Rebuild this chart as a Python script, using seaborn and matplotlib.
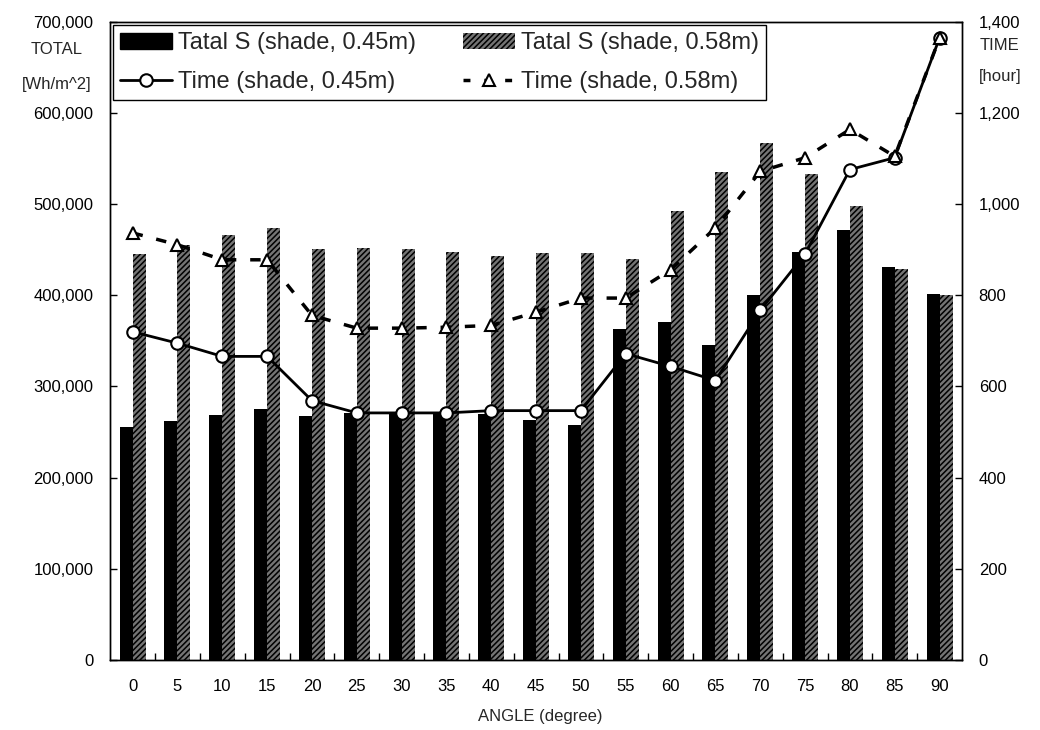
import numpy as np
import pandas as pd
import matplotlib
matplotlib.use("Agg")
import matplotlib.pyplot as plt
import seaborn as sns
from matplotlib.patches import Patch
from matplotlib.lines import Line2D
from matplotlib.ticker import FuncFormatter, MultipleLocator

# Solar radiation totals and exposure time by panel angle
angles = [0, 5, 10, 15, 20, 25, 30, 35, 40, 45, 50, 55, 60, 65, 70, 75, 80, 85, 90]
total_045 = [255000, 262000, 269000, 275000, 268000, 271000, 272000, 272000, 270000, 263000,
             258000, 363000, 371000, 345000, 400000, 447000, 472000, 431000, 402000]
total_058 = [445000, 455000, 466000, 474000, 451000, 452000, 451000, 447000, 443000, 446000,
             446000, 440000, 492000, 535000, 567000, 533000, 498000, 429000, 400000]
time_045 = [720, 695, 666, 666, 569, 542, 542, 542, 547, 547,
            547, 672, 644, 613, 767, 891, 1076, 1102, 1365]
time_058 = [937, 911, 878, 878, 756, 728, 728, 730, 734, 763,
            794, 794, 856, 948, 1072, 1102, 1164, 1105, 1365]

lab_s45 = "Tatal S (shade, 0.45m)"
lab_s58 = "Tatal S (shade, 0.58m)"
lab_t45 = "Time (shade, 0.45m)"
lab_t58 = "Time (shade, 0.58m)"

sns.set_theme(style="white")
plt.rcParams['font.family'] = ['Liberation Sans', 'DejaVu Sans']
plt.rcParams['hatch.linewidth'] = 1.1

fig = plt.figure(figsize=(10.4, 7.3), dpi=100)
ax = fig.add_axes([0.106, 0.096, 0.819, 0.874])

df = pd.DataFrame({
    "angle": angles * 2,
    "total": total_045 + total_058,
    "series": [lab_s45] * len(angles) + [lab_s58] * len(angles),
})

grey = "#747474"
sns.barplot(data=df, x="angle", y="total", hue="series", hue_order=[lab_s45, lab_s58],
            palette=["black", grey], width=0.58, errorbar=None, saturation=1,
            legend=False, linewidth=0, ax=ax)
for bar in ax.containers[1]:
    bar.set_hatch("//////")
    bar.set_edgecolor("black")
    bar.set_linewidth(0)

ax2 = ax.twinx()
xpos = np.arange(len(angles))
sns.lineplot(x=xpos, y=time_045, ax=ax2, color="black", linewidth=2, marker="o",
             markersize=9, markerfacecolor="white", markeredgecolor="black",
             markeredgewidth=1.5)
sns.lineplot(x=xpos, y=time_058, ax=ax2, color="black", linewidth=2.5,
             linestyle=(0, (3, 4)), marker="^", markersize=9, markerfacecolor="white",
             markeredgecolor="black", markeredgewidth=1.5)

ax.set_xlim(-0.5, len(angles) - 0.5)
ax.set_ylim(0, 700000)
ax2.set_ylim(0, 1400)

ax.yaxis.set_major_locator(MultipleLocator(100000))
ax2.yaxis.set_major_locator(MultipleLocator(200))
comma = FuncFormatter(lambda v, p: f"{v:,.0f}")
ax.yaxis.set_major_formatter(comma)
ax2.yaxis.set_major_formatter(comma)

ax.set_xlabel("")
ax.set_ylabel("")
ax2.set_ylabel("")

ax.set_xticks(xpos)
ax.set_xticklabels([str(a) for a in angles])
ax.set_xticks(np.arange(len(angles) - 1) + 0.5, minor=True)
ax.tick_params(axis="x", which="major", length=0, pad=14, labelsize=12, colors="black")
ax.tick_params(axis="x", which="minor", direction="in", length=5, width=1, color="black",
               bottom=True)
ax.tick_params(axis="y", direction="in", length=5, width=1, color="black", pad=12,
               labelsize=12, labelcolor="black", left=True)
ax2.tick_params(axis="y", direction="in", length=5, width=1, color="black", pad=12,
                labelsize=12, labelcolor="black", right=True)

for a in (ax, ax2):
    for s in a.spines.values():
        s.set_color("black")
        s.set_linewidth(1)

fig.text(57 / 1040, 1 - 50 / 730, "TOTAL", ha="center", va="center", fontsize=12)
fig.text(57 / 1040, 1 - 84 / 730, "[Wh/m^2]", ha="center", va="center", fontsize=12)
fig.text(1000 / 1040, 1 - 45 / 730, "TIME", ha="center", va="center", fontsize=12)
fig.text(1000 / 1040, 1 - 77 / 730, "[hour]", ha="center", va="center", fontsize=12)
fig.text(540 / 1040, 1 - 717 / 730, "ANGLE (degree)", ha="center", va="center", fontsize=12)

handles = [
    Patch(facecolor="black", edgecolor="black", label=lab_s45),
    Line2D([], [], color="black", lw=2, marker="o", ms=9, mfc="white", mec="black",
           mew=1.5, label=lab_t45),
    Patch(facecolor=grey, edgecolor="black", hatch="//////", linewidth=0, label=lab_s58),
    Line2D([], [], color="black", lw=2.5, ls=(0, (2, 4)), marker="^", ms=9, mfc="white",
           mec="black", mew=1.5, label=lab_t58),
]
leg = ax2.legend(handles=handles, ncol=2, loc="upper left", bbox_to_anchor=(0.003, 0.995),
                 fontsize=17, frameon=True, fancybox=False, edgecolor="black",
                 framealpha=1, handlelength=2.2, handletextpad=0.25, columnspacing=2.0,
                 labelspacing=0.72, borderpad=0.3, borderaxespad=0)
leg.get_frame().set_linewidth(1)

fig.savefig("out.png", dpi=100)
